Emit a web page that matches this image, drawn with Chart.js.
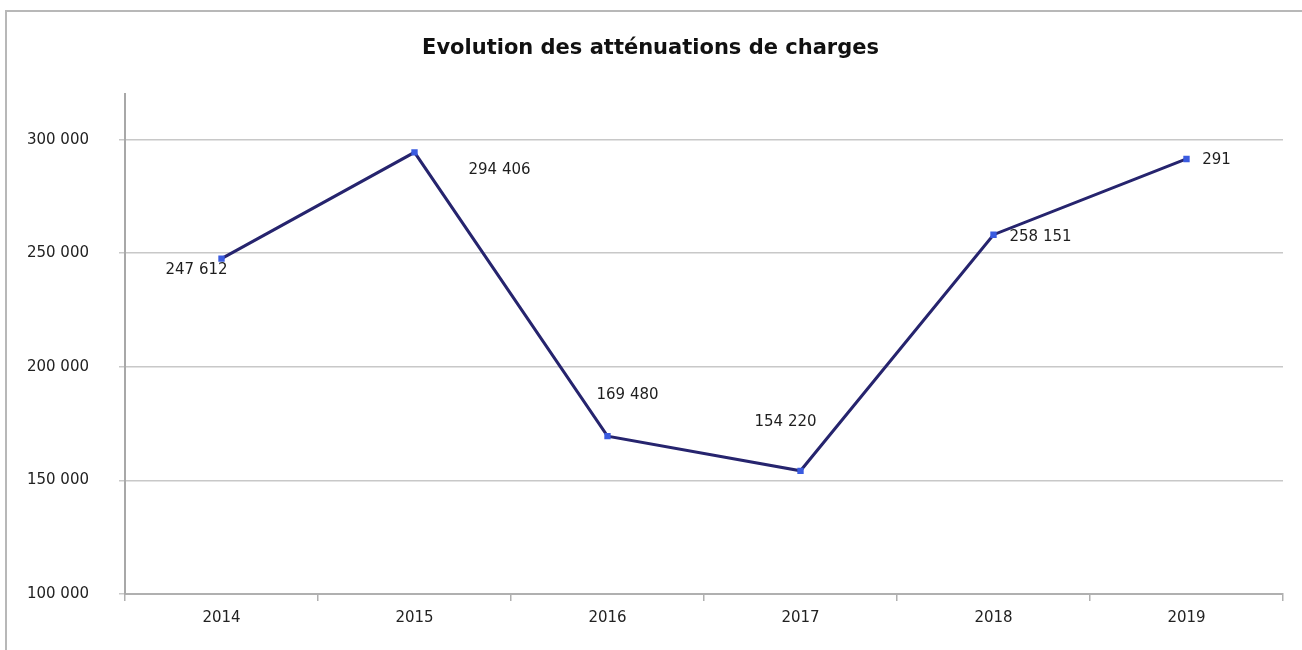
<!DOCTYPE html>
<html>
<head>
<meta charset="utf-8">
<script src="https://cdn.jsdelivr.net/npm/chart.js@4.4.1/dist/chart.umd.min.js"></script>
<style>
  html, body { margin: 0; padding: 0; background: #fff; }
  #wrap { position: relative; width: 1302px; height: 650px; }
  #frame { position: absolute; left: 5px; top: 10px; right: -5px; bottom: -5px; border-left: 2px solid #b8b8b8; border-top: 2px solid #b8b8b8; }
  canvas { position: absolute; left: 0; top: 0; }
</style>
</head>
<body>
<div id="wrap">
  <div id="frame"></div>
  <canvas id="chart" width="1302" height="650"></canvas>
</div>
<script>
// chart data
const years = ['2014', '2015', '2016', '2017', '2018', '2019'];
const amounts = [247612, 294406, 169480, 154220, 258151, 291500];
const pointLabels = ['247 612', '294 406', '169 480', '154 220', '258 151', '291'];
const yTicks = [100000, 150000, 200000, 250000, 300000];

// where each value label sits relative to its point (px)
const labelOffsets = [[-25, 11], [85, 18], [20, -41], [-15, -49], [47, 2], [30, 1]];

const FONT = '"DejaVu Sans", Verdana, sans-serif';
const fmt = v => String(v).replace(/\B(?=(\d{3})+(?!\d))/g, ' ');

const valueLabels = {
  id: 'valueLabels',
  afterDatasetsDraw(chart) {
    const ctx = chart.ctx;
    const meta = chart.getDatasetMeta(0);
    ctx.save();
    ctx.font = '15px ' + FONT;
    ctx.fillStyle = '#1e1e1e';
    ctx.textAlign = 'center';
    ctx.textBaseline = 'middle';
    meta.data.forEach((pt, i) => {
      const off = labelOffsets[i];
      ctx.fillText(pointLabels[i], pt.x + off[0], pt.y + off[1]);
    });
    ctx.restore();
  }
};

new Chart(document.getElementById('chart'), {
  type: 'line',
  plugins: [valueLabels],
  data: {
    labels: years,
    datasets: [{
      data: amounts,
      borderColor: '#26246e',
      borderWidth: 3,
      tension: 0,
      pointStyle: 'rect',
      pointRadius: 4.5,
      pointBackgroundColor: '#3a5be0',
      pointBorderColor: '#3a5be0',
      pointBorderWidth: 0
    }]
  },
  options: {
    responsive: false,
    animation: false,
    layout: { padding: { left: 18, right: 19, top: 0, bottom: 0 } },
    plugins: {
      legend: { display: false },
      tooltip: { enabled: false },
      title: {
        display: true,
        text: 'Evolution des atténuations de charges',
        color: '#111',
        font: { family: FONT, size: 21, weight: 'bold' },
        padding: { top: 36, bottom: 33 }
      }
    },
    scales: {
      x: {
        offset: true,
        grid: { offset: true, drawOnChartArea: false, drawTicks: true, tickLength: 7, color: '#b0b0b0', lineWidth: 1.5 },
        border: { color: '#b0b0b0', width: 2 },
        ticks: { color: '#222', padding: 8, font: { family: FONT, size: 15 } },
        afterFit(scale) { scale.height = 56; }
      },
      y: {
        min: 100000,
        max: 320000,
        grid: { color: '#c8c8c8', lineWidth: 1.5, tickLength: 6 },
        border: { color: '#a8a8a8', width: 2 },
        ticks: {
          color: '#222',
          padding: 30,
          font: { family: FONT, size: 15 },
          callback: v => fmt(v)
        },
        afterBuildTicks(scale) { scale.ticks = yTicks.map(v => ({ value: v })); },
        afterFit(scale) { scale.width = 107; }
      }
    }
  }
});
</script>
</body>
</html>
